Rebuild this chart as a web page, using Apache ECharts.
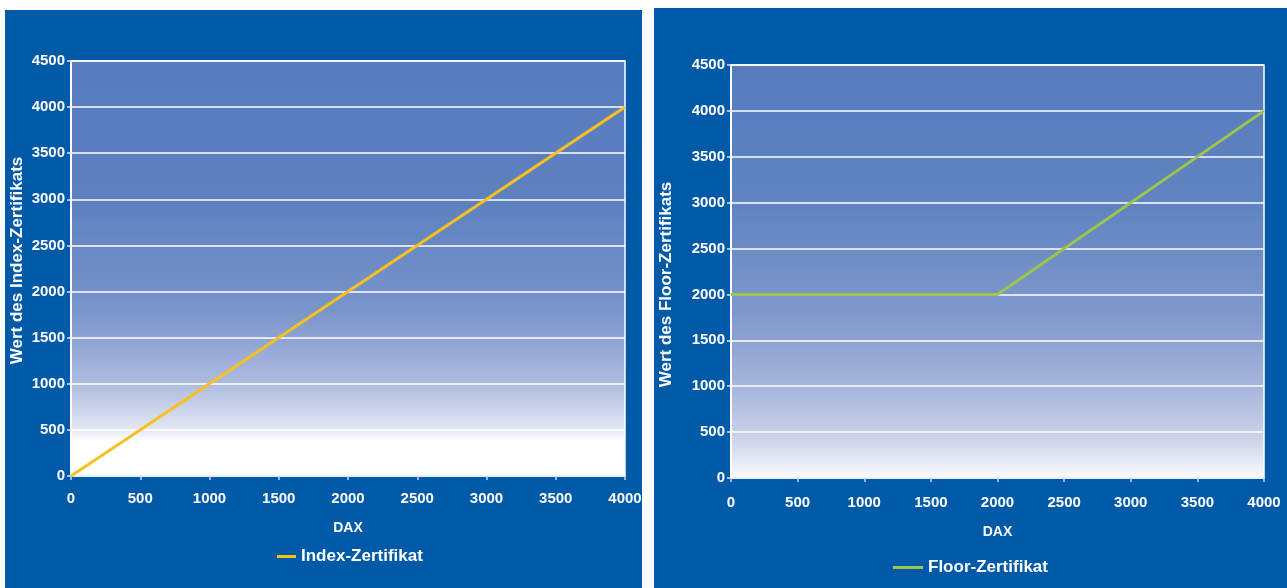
<!DOCTYPE html>
<html>
<head>
<meta charset="utf-8">
<script src="https://cdn.jsdelivr.net/npm/echarts@6/dist/echarts.min.js"></script>
<style>
html,body{margin:0;padding:0;background:#ffffff;}
#c{width:1287px;height:588px;}
</style>
</head>
<body>
<div id="c"></div>
<script>
// Data
const xTicks = [0, 500, 1000, 1500, 2000, 2500, 3000, 3500, 4000];
const yTicks = [0, 500, 1000, 1500, 2000, 2500, 3000, 3500, 4000, 4500];
const indexDax = [0, 4000];
const indexValue = [0, 4000];
const floorDax = [0, 2000, 4000];
const floorValue = [2000, 2000, 4000];
const indexName = 'Index-Zertifikat';
const floorName = 'Floor-Zertifikat';
const yNameLeft = 'Wert des Index-Zertifikats';
const yNameRight = 'Wert des Floor-Zertifikats';
const xName = 'DAX';

const FONT = '"Liberation Sans", Arial, sans-serif';
const BLUE = '#005aa8';

const chart = echarts.init(document.getElementById('c'), null, {renderer: 'canvas'});

function grad(stops) {
  return new echarts.graphic.LinearGradient(0, 0, 0, 1, stops.map(s => ({offset: s[0], color: s[1]})));
}

function xAxisCfg(gi, nameGap, labelMargin) {
  return {
    gridIndex: gi, type: 'value', min: xTicks[0], max: xTicks[xTicks.length - 1], interval: xTicks[1] - xTicks[0],
    name: xName, nameLocation: 'middle', nameGap: nameGap,
    nameTextStyle: {color: '#fff', fontWeight: 'bold', fontSize: 14, fontFamily: FONT},
    axisLine: {show: true, lineStyle: {color: '#e6ecf5', width: 1.5}},
    axisTick: {show: true, length: 4, lineStyle: {color: '#c9d6ea', width: 1.5}},
    axisLabel: {color: '#fff', fontWeight: 'bold', fontSize: 15, fontFamily: FONT, margin: labelMargin,
      formatter: v => String(v)},
    splitLine: {show: false}
  };
}
function yAxisCfg(gi, name, nameGap, pad) {
  return {
    gridIndex: gi, type: 'value', min: yTicks[0], max: yTicks[yTicks.length - 1], interval: yTicks[1] - yTicks[0],
    name: name, nameLocation: 'middle', nameGap: nameGap, nameRotate: 90,
    nameTextStyle: {color: '#fff', fontWeight: 'bold', fontSize: 17, fontFamily: FONT, padding: pad},
    axisLine: {show: true, lineStyle: {color: '#ffffff', width: 2}},
    axisTick: {show: true, length: 4, lineStyle: {color: '#e0e8f4', width: 1.5}},
    axisLabel: {color: '#fff', fontWeight: 'bold', fontSize: 15, fontFamily: FONT, margin: 6,
      formatter: v => String(v)},
    splitLine: {show: true, lineStyle: {color: '#ffffff', width: 1.5}}
  };
}

const option = {
  backgroundColor: '#ffffff',
  animation: false,
  graphic: [
    {type: 'rect', shape: {x: 5, y: 10, width: 637, height: 578}, style: {fill: BLUE}, z: -10, silent: true},
    {type: 'rect', shape: {x: 654, y: 8, width: 633, height: 580}, style: {fill: BLUE}, z: -10, silent: true}
  ],
  grid: [
    {left: 71, top: 61, width: 554, height: 415, show: true, borderWidth: 1.5, borderColor: '#ffffff',
     backgroundColor: grad([[0,'#577bbd'],[0.35,'#5f81c0'],[0.6,'#7a94cb'],[0.78,'#afbcdf'],[0.885,'#e3e7f3'],[0.915,'#ffffff'],[1,'#ffffff']])},
    {left: 731, top: 65, width: 533, height: 413, show: true, borderWidth: 1.5, borderColor: '#ffffff',
     backgroundColor: grad([[0,'#577bbd'],[0.35,'#6184c1'],[0.6,'#7f98cc'],[0.78,'#a8b5db'],[0.9,'#cbd2e9'],[1,'#fbfbfe']])}
  ],
  xAxis: [xAxisCfg(0, 45, 15), xAxisCfg(1, 47, 17)],
  yAxis: [yAxisCfg(0, yNameLeft, 45, [0, 0, 0, 16]), yAxisCfg(1, yNameRight, 56, [0, 26, 0, 0])],
  legend: [
    {data: [{name: indexName, icon: 'rect'}], left: 277, top: 548, padding: 0, itemWidth: 19, itemHeight: 3, itemGap: 10,
     textStyle: {color: '#fff', fontWeight: 'bold', fontSize: 17, fontFamily: FONT}, selectedMode: false},
    {data: [{name: floorName, icon: 'rect'}], left: 893, top: 559, padding: 0, itemWidth: 30, itemHeight: 3, itemGap: 10,
     textStyle: {color: '#fff', fontWeight: 'bold', fontSize: 17, fontFamily: FONT}, selectedMode: false}
  ],
  series: [
    {name: indexName, type: 'line', xAxisIndex: 0, yAxisIndex: 0, showSymbol: false, symbol: 'none',
     lineStyle: {color: '#f7c11c', width: 3}, itemStyle: {color: '#f7c11c'},
     data: indexDax.map((d, i) => [d, indexValue[i]]), z: 5},
    {name: floorName, type: 'line', xAxisIndex: 1, yAxisIndex: 1, showSymbol: false, symbol: 'none',
     lineStyle: {color: '#9bc54b', width: 3}, itemStyle: {color: '#9bc54b'},
     data: floorDax.map((d, i) => [d, floorValue[i]]), z: 5}
  ]
};
chart.setOption(option);
</script>
</body>
</html>
